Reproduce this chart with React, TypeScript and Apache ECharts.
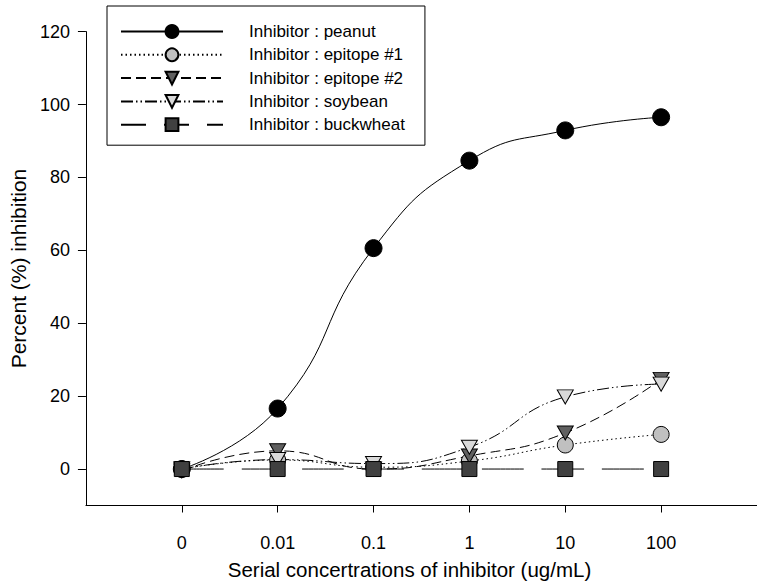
import React, { useEffect, useRef } from "react";
import * as echarts from "echarts";

const categories = ["0", "0.01", "0.1", "1", "10", "100"];
const peanut = [0, 16.6, 60.6, 84.6, 92.9, 96.5];
const epitope1 = [0, 2.5, 0.5, 2.2, 6.6, 9.5];
const epitope2 = [-0.5, 5, 0, 3.6, 9.9, 24.6];
const soybean = [0, 2.6, 1.5, 6, 19.8, 23.3];
const buckwheat = [0, 0, 0, 0, 0, 0];
const yTicks = [0, 20, 40, 60, 80, 100, 120];

const FONT = "'Liberation Sans', Arial, sans-serif";
const TRI_DOWN = "path://M0,0L20,0L10,17Z";

const pts = (arr: number[]) => arr.map((v, i) => [i, v]);

export default function App() {
  const ref = useRef<HTMLDivElement>(null);
  useEffect(() => {
    if (!ref.current) return;
    const chart = echarts.init(ref.current, null, { renderer: "svg" });
    const mk = (
      name: string,
      data: number[],
      symbol: string,
      size: number | number[],
      fill: string,
      dash: any
    ) => ({
      name,
      type: "line",
      data: pts(data),
      smooth: true,
      symbol,
      symbolSize: size,
      showAllSymbol: true,
      lineStyle: { color: "#000", width: 1, type: dash },
      itemStyle: { color: fill, borderColor: "#000", borderWidth: 1, opacity: 1 },
      emphasis: { disabled: true },
      z: 2,
    });
    chart.setOption({
      animation: false,
      backgroundColor: "#fff",
      textStyle: { fontFamily: FONT, color: "#000" },
      grid: { left: 84, right: -4, top: 31.6, bottom: 80.5, containLabel: false },
      legend: {
        orient: "vertical",
        left: 107,
        top: 6,
        padding: [17, 20, 12, 13],
        itemWidth: 102,
        itemHeight: 16,
        itemGap: 6.3,
        borderColor: "#000",
        borderWidth: 1,
        textStyle: { fontFamily: FONT, fontSize: 17, color: "#000", padding: [0, 0, 0, 21] },
        data: [
          { name: "Inhibitor : peanut" },
          { name: "Inhibitor : epitope #1" },
          { name: "Inhibitor : epitope #2" },
          { name: "Inhibitor : soybean" },
          { name: "Inhibitor : buckwheat", lineStyle: { type: [25, 18] } },
        ],
      },
      xAxis: {
        type: "value",
        min: -1,
        max: 6,
        splitLine: { show: false },
        axisLine: { onZero: false, lineStyle: { color: "#000", width: 1 } },
        axisTick: { length: 7, customValues: [0, 1, 2, 3, 4, 5], lineStyle: { color: "#000" } },
        axisLabel: {
          customValues: [0, 1, 2, 3, 4, 5],
          formatter: (v: number) => categories[Math.round(v)] ?? "",
          fontSize: 18,
          fontFamily: FONT,
          color: "#000",
          margin: 28,
        },
      },
      yAxis: {
        type: "value",
        min: -10,
        max: 120,
        splitLine: { show: false },
        axisLine: { show: true, onZero: false, lineStyle: { color: "#000", width: 1 } },
        axisTick: { show: true, length: 8, customValues: yTicks, lineStyle: { color: "#000" } },
        axisLabel: {
          customValues: yTicks,
          fontSize: 18,
          fontFamily: FONT,
          color: "#000",
          margin: 16,
        },
        name: "Percent (%) inhibition",
        nameLocation: "middle",
        nameGap: 55,
        nameTextStyle: { fontSize: 21, fontFamily: FONT, color: "#000" },
      },
      graphic: [
        {
          type: "text",
          x: 409.5,
          y: 569,
          style: {
            text: "Serial concertrations of inhibitor (ug/mL)",
            fontSize: 20.5,
            fontFamily: FONT,
            fill: "#000",
            align: "center",
            verticalAlign: "middle",
          },
        },
      ],
      series: [
        mk("Inhibitor : peanut", peanut, "circle", 17, "#000", "solid"),
        mk("Inhibitor : epitope #1", epitope1, "circle", 16, "#c0c0c0", [1.5, 3]),
        mk("Inhibitor : epitope #2", epitope2, TRI_DOWN, [16, 14], "#606060", [10, 5]),
        mk("Inhibitor : soybean", soybean, TRI_DOWN, [16, 14], "#d9d9d9", [12, 3, 1.5, 3, 1.5, 3]),
        mk("Inhibitor : buckwheat", buckwheat, "rect", 15, "#404040", [42, 18]),
      ],
    });
    return () => chart.dispose();
  }, []);
  return (
    <div
      ref={ref}
      style={{ position: "absolute", left: 0, top: 0, width: 757, height: 586 }}
    />
  );
}
